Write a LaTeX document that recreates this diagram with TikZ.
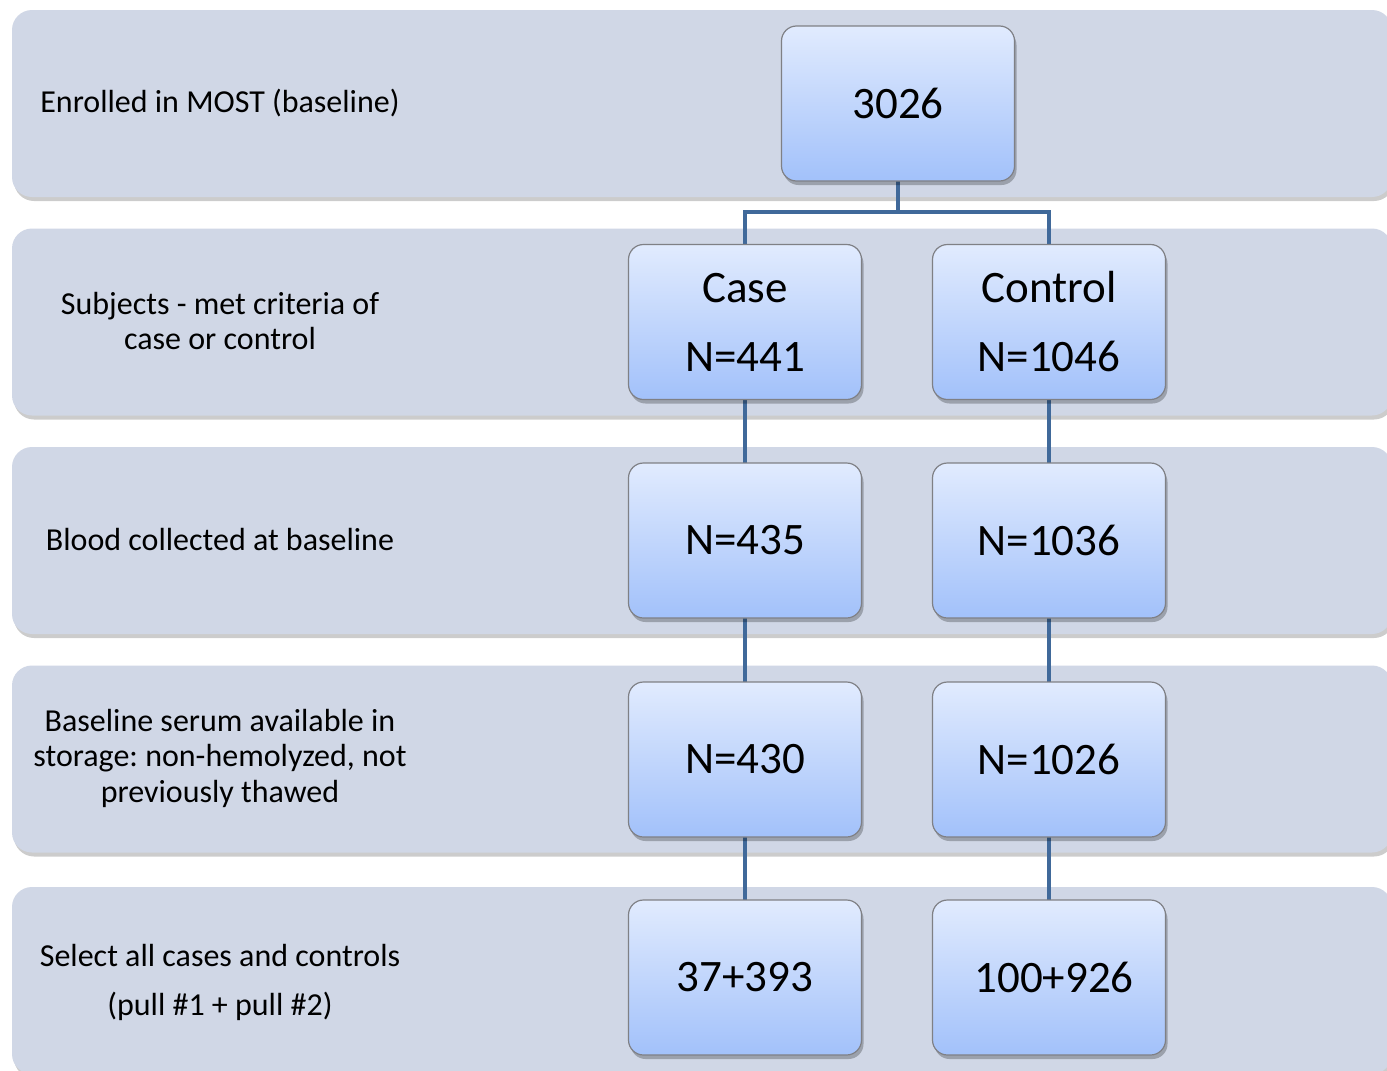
\documentclass[tikz,border=0pt]{standalone}
\usepackage{fontspec}
\setmainfont{Carlito}
\usetikzlibrary{shadows}
\frenchspacing
\definecolor{bandfill}{HTML}{D0D7E6}
\definecolor{boxtop}{HTML}{E1EBFE}
\definecolor{boxbot}{HTML}{A2C1FA}
\definecolor{boxline}{HTML}{7F8085}
\definecolor{linkcol}{HTML}{40699A}
\tikzset{
  band/.style={rectangle, rounded corners=20pt, fill=bandfill, inner sep=0pt,
    minimum width=1380pt, minimum height=187pt,
    drop shadow={shadow xshift=2pt, shadow yshift=-4pt, fill=black, opacity=0.2}},
  numbox/.style={rectangle, rounded corners=15pt, draw=boxline, line width=1.2pt,
    top color=boxtop, bottom color=boxbot, inner sep=0pt,
    minimum width=233pt, minimum height=155pt, align=center,
    font=\fontsize{45}{69}\selectfont,
    drop shadow={shadow xshift=2pt, shadow yshift=-4pt, fill=black, opacity=0.25}},
  lbl/.style={align=center, inner sep=0pt, font=\fontsize{32}{35.5}\selectfont},
  link/.style={draw=linkcol, line width=4pt}
}
\begin{document}
\begin{tikzpicture}[x=1pt,y=-1pt]
\useasboundingbox (0,0) rectangle (1387,1071);
\clip (0,0) rectangle (1387,1071);
\fill[white] (0,0) rectangle (1387,1071);
% bands
\node[band] (b1) at (702,103.5) {};
\node[band] (b2) at (702,322) {};
\node[band] (b3) at (702,540.5) {};
\node[band] (b4) at (702,759) {};
\node[band] (b5) at (702,980.5) {};
% labels
\node[lbl] (l1) at (220,103) {Enrolled in MOST (baseline)};
\node[lbl] (l2) at (220,321) {Subjects - met criteria of\\case or control};
\node[lbl] (l3) at (220,540) {Blood collected at baseline};
\node[lbl] (l4) at (220,758) {Baseline serum available in\\storage: non-hemolyzed, not\\previously thawed};
\node[lbl, font=\fontsize{32}{49}\selectfont] (l5) at (220,982) {Select all cases and controls\\(pull \#1 + pull \#2)};
% connectors
\coordinate (split) at (898,212);
\coordinate (splitL) at (745,212);
\coordinate (splitR) at (1049,212);
\draw[link] (898,181) -- (split);
\draw[link] (745,244) -- (splitL) -- (splitR) -- (1049,244);
\draw[link] (745,400) -- (745,463);
\draw[link] (1049,400) -- (1049,463);
\draw[link] (745,618) -- (745,682);
\draw[link] (1049,618) -- (1049,682);
\draw[link] (745,837) -- (745,900);
\draw[link] (1049,837) -- (1049,900);
% boxes
\node[numbox] (top) at (898,103.5) {3026};
\node[numbox] (c1) at (745,322) {Case\\N=441};
\node[numbox] (k1) at (1049,322) {Control\\N=1046};
\node[numbox] (c2) at (745,540.5) {N=435};
\node[numbox] (k2) at (1049,540.5) {N=1036};
\node[numbox] (c3) at (745,759.5) {N=430};
\node[numbox] (k3) at (1049,759.5) {N=1026};
\node[numbox] (c4) at (745,977.5) {37+393};
\node[numbox] (k4) at (1049,977.5) {\hspace*{10pt}100+926};
\end{tikzpicture}
\end{document}
